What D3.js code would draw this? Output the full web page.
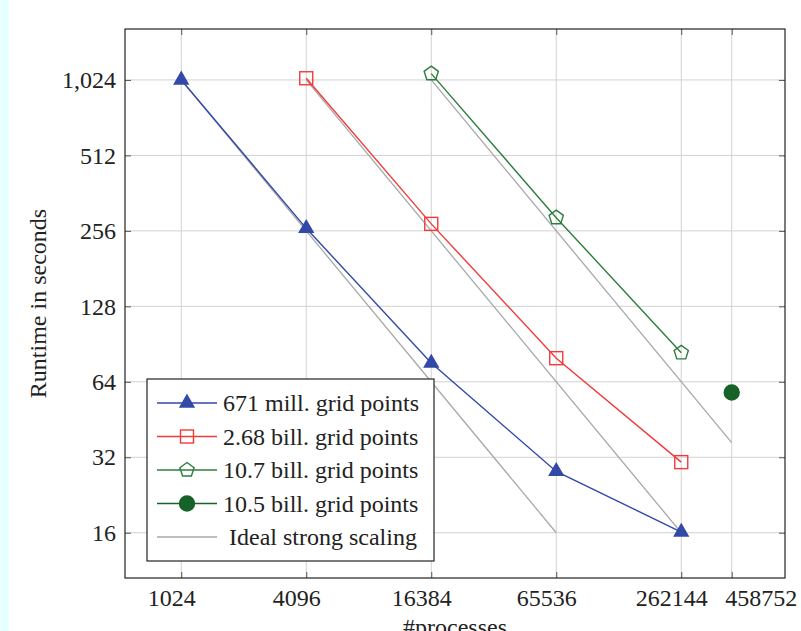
<!DOCTYPE html>
<html>
<head>
<meta charset="utf-8">
<script src="https://cdn.jsdelivr.net/npm/d3@7"></script>
<style>
  body { margin: 0; background: #fff; }
  svg { display: block; }
  text { font-family: "Liberation Serif", "DejaVu Serif", serif; fill: #222; }
</style>
</head>
<body>
<div id="chart"></div>
<script>
var xTicks = [1024, 4096, 16384, 65536, 262144, 458752]
var yTicks = [16, 32, 64, 128, 256, 512, 1024]

var seriesNames = ['671 mill. grid points', '2.68 bill. grid points', '10.7 bill. grid points', '10.5 bill. grid points', 'Ideal strong scaling']

var procs671 = [1024, 4096, 16384, 65536, 262144]
var time671 = [1024, 262, 76, 28.1, 16.1]

var procs268 = [4096, 16384, 65536, 262144]
var time268 = [1040, 273, 79.5, 30.6]

var procs107 = [16384, 65536, 262144]
var time107 = [1085, 289, 83.5]

var procs105 = [458752]
var time105 = [58]

// ideal lines: start and end points
var idealProcs = [[1024, 65536], [4096, 262144], [16384, 458752]]
var idealTimes = [[1024, 16], [1024, 16], [1024, 36.6]]

var width = 801
var height = 631
var margin = {left: 125, right: 16, top: 29, bottom: 53}

var svg = d3.select('#chart').append('svg')
    .attr('width', width)
    .attr('height', height)

// light strip on the left edge
svg.append('rect')
    .attr('x', 0).attr('y', 0)
    .attr('width', 9).attr('height', height)
    .attr('fill', '#e6ffff')

var x = d3.scaleLog().base(2)
    .domain([Math.pow(2, 9.1), Math.pow(2, 19.66)])
    .range([margin.left, width - margin.right])

var y = d3.scaleLog().base(2)
    .domain([Math.pow(2, 3.4), Math.pow(2, 10.675)])
    .range([height - margin.bottom, margin.top])

var x0 = x.range()[0], x1 = x.range()[1]
var y0 = y.range()[0], y1 = y.range()[1]

// grid
var grid = svg.append('g').attr('class', 'grid')
grid.selectAll('line.gx').data(xTicks).enter().append('line')
    .attr('x1', d => x(d)).attr('x2', d => x(d))
    .attr('y1', y1).attr('y2', y0)
    .attr('stroke', '#d2d2d2').attr('stroke-width', 1)
grid.selectAll('line.gy').data(yTicks).enter().append('line')
    .attr('y1', d => y(d)).attr('y2', d => y(d))
    .attr('x1', x0).attr('x2', x1)
    .attr('stroke', '#d2d2d2').attr('stroke-width', 1)

// axes, ticks inside
var fmt = d3.format(',')
var xAxisG = svg.append('g')
    .attr('transform', 'translate(0,' + y0 + ')')
    .call(d3.axisBottom(x).tickValues(xTicks).tickFormat(d => d).tickSizeInner(-6).tickSizeOuter(0).tickPadding(11))
svg.append('g')
    .attr('transform', 'translate(0,' + y1 + ')')
    .call(d3.axisTop(x).tickValues(xTicks).tickFormat('').tickSizeInner(-6).tickSizeOuter(0))
svg.append('g')
    .attr('transform', 'translate(' + x0 + ',0)')
    .call(d3.axisLeft(y).tickValues(yTicks).tickFormat(fmt).tickSizeInner(-6).tickSizeOuter(0).tickPadding(9))
svg.append('g')
    .attr('transform', 'translate(' + x1 + ',0)')
    .call(d3.axisRight(y).tickValues(yTicks).tickFormat('').tickSizeInner(-6).tickSizeOuter(0))

svg.selectAll('.domain').remove()
svg.selectAll('.tick line').attr('stroke', '#555')
svg.selectAll('.tick text')
    .style('font-family', '"Liberation Serif", serif')
    .style('font-size', '24px')
    .attr('fill', '#222')

// labels sit a little left of their ticks; the last one is pushed right
xAxisG.selectAll('.tick text')
    .attr('dx', d => d === 458752 ? 29 : -10)

svg.append('rect')
    .attr('x', x0).attr('y', y1)
    .attr('width', x1 - x0).attr('height', y0 - y1)
    .attr('fill', 'none').attr('stroke', '#222').attr('stroke-width', 1.2)

// axis labels (the x label runs off the bottom edge, as in the original)
svg.append('text')
    .attr('x', (x0 + x1) / 2).attr('y', 635)
    .attr('text-anchor', 'middle')
    .style('font-size', '24px')
    .text('#processes')
svg.append('text')
    .attr('transform', 'translate(46,' + ((y0 + y1) / 2) + ') rotate(-90)')
    .attr('text-anchor', 'middle')
    .style('font-size', '24px')
    .text('Runtime in seconds')

var line = d3.line().x(d => x(d[0])).y(d => y(d[1]))

// ideal lines
idealProcs.forEach(function(p, i) {
    svg.append('path')
        .datum(d3.zip(p, idealTimes[i]))
        .attr('d', line)
        .attr('fill', 'none')
        .attr('stroke', '#a8a8a8')
        .attr('stroke-width', 1.3)
})

var blue = '#3349a8', red = '#f23a3a', green = '#2e7d3e', dgreen = '#166228'

function triangle(g, r) {
    g.append('path')
        .attr('d', 'M0,' + (-r) + 'L' + (r * 0.866) + ',' + (r / 2) + 'L' + (-r * 0.866) + ',' + (r / 2) + 'Z')
}
function square(g, r) {
    g.append('rect').attr('x', -r).attr('y', -r).attr('width', 2 * r).attr('height', 2 * r)
}
function pentagon(g, r) {
    var pts = d3.range(5).map(k => {
        var a = -Math.PI / 2 + k * 2 * Math.PI / 5
        return [r * Math.cos(a), r * Math.sin(a)]
    })
    g.append('path').attr('d', 'M' + pts.join('L') + 'Z')
}
function circle(g, r) {
    g.append('circle').attr('r', r)
}

var series = [
    {procs: procs671, times: time671, color: blue, marker: triangle, size: 8, fill: blue},
    {procs: procs268, times: time268, color: red, marker: square, size: 6.5, fill: 'none'},
    {procs: procs107, times: time107, color: green, marker: pentagon, size: 7.5, fill: 'none'},
    {procs: procs105, times: time105, color: dgreen, marker: circle, size: 7.5, fill: dgreen}
]

series.forEach(function(s) {
    var pts = d3.zip(s.procs, s.times)
    svg.append('path')
        .datum(pts)
        .attr('d', line)
        .attr('fill', 'none')
        .attr('stroke', s.color)
        .attr('stroke-width', 1.4)
    pts.forEach(function(p) {
        var g = svg.append('g')
            .attr('transform', 'translate(' + x(p[0]) + ',' + y(p[1]) + ')')
            .attr('fill', s.fill)
            .attr('stroke', s.color)
            .attr('stroke-width', 1.4)
        s.marker(g, s.size)
    })
})

// legend
var lg = svg.append('g').attr('transform', 'translate(147,379)')
lg.append('rect')
    .attr('width', 287).attr('height', 182)
    .attr('fill', '#fff').attr('stroke', '#222').attr('stroke-width', 1.2)

var legendItems = series.concat([{color: '#a8a8a8', marker: null}])
legendItems.forEach(function(s, i) {
    var yy = 24 + i * 33.5
    lg.append('line')
        .attr('x1', 10).attr('x2', 70)
        .attr('y1', yy).attr('y2', yy)
        .attr('stroke', s.color).attr('stroke-width', 1.4)
    if (s.marker) {
        var g = lg.append('g')
            .attr('transform', 'translate(40,' + yy + ')')
            .attr('fill', s.fill).attr('stroke', s.color).attr('stroke-width', 1.4)
        s.marker(g, s.size)
    }
    lg.append('text')
        .attr('x', i === 4 ? 82 : 76).attr('y', yy + 8)
        .style('font-size', '24px')
        .text(seriesNames[i])
})
</script>
</body>
</html>
